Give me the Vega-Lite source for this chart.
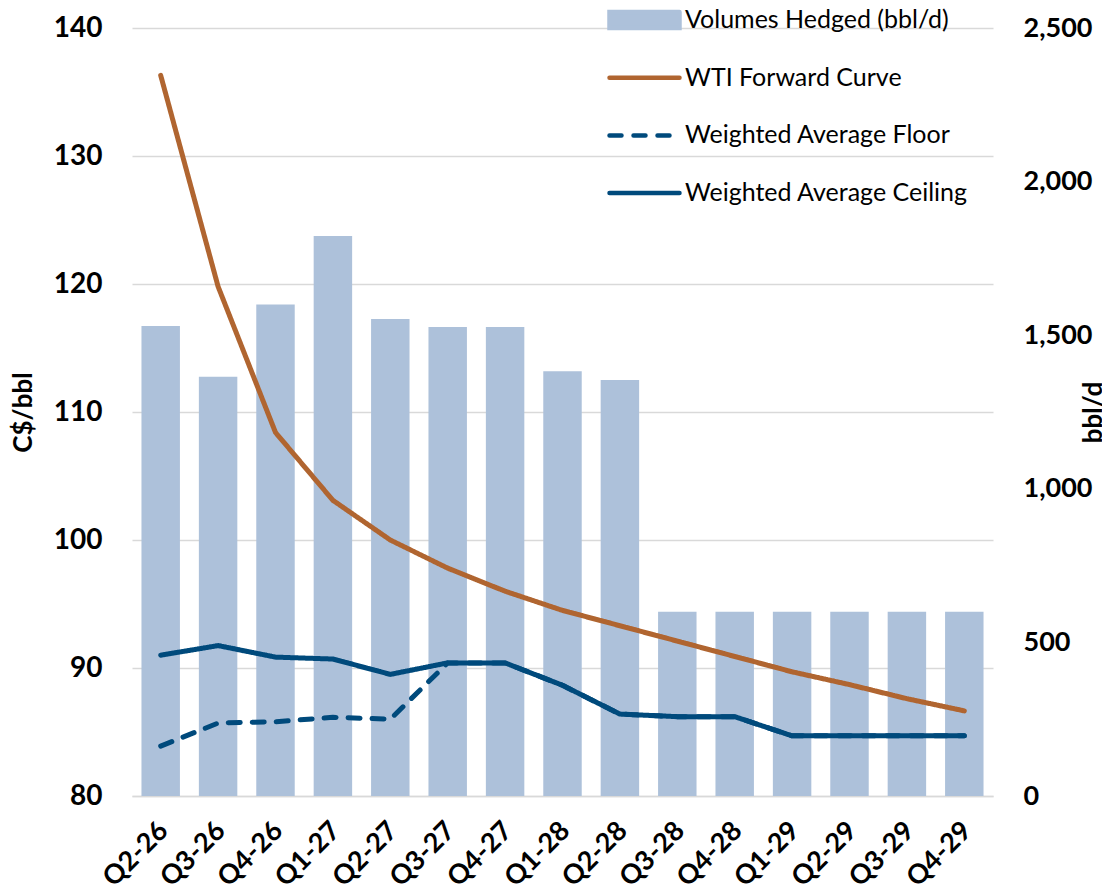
{
  "$schema": "https://vega.github.io/schema/vega-lite/v6.json",
  "width": 861,
  "height": 768,
  "padding": {"left": 132, "top": 28, "right": 109, "bottom": 96},
  "autosize": {"type": "none"},
  "background": "white",
  "config": {
    "font": "Lato",
    "view": {"stroke": null},
    "legend": {"title": null},
    "axis": {"labelFont": "Lato", "titleFont": "Lato", "labelColor": "#000000", "titleColor": "#000000"}
  },
  "data": {
    "values": [
      {"q": "Q2-26", "vol": 1530, "WTI Forward Curve": 136.3, "Weighted Average Floor": 83.9, "Weighted Average Ceiling": 91.0},
      {"q": "Q3-26", "vol": 1365, "WTI Forward Curve": 119.8, "Weighted Average Floor": 85.7, "Weighted Average Ceiling": 91.75},
      {"q": "Q4-26", "vol": 1600, "WTI Forward Curve": 108.4, "Weighted Average Floor": 85.8, "Weighted Average Ceiling": 90.85},
      {"q": "Q1-27", "vol": 1823, "WTI Forward Curve": 103.1, "Weighted Average Floor": 86.15, "Weighted Average Ceiling": 90.7},
      {"q": "Q2-27", "vol": 1553, "WTI Forward Curve": 100.0, "Weighted Average Floor": 86.0, "Weighted Average Ceiling": 89.5},
      {"q": "Q3-27", "vol": 1527, "WTI Forward Curve": 97.8, "Weighted Average Floor": 90.4, "Weighted Average Ceiling": 90.4},
      {"q": "Q4-27", "vol": 1527, "WTI Forward Curve": 96.0, "Weighted Average Floor": 90.4, "Weighted Average Ceiling": 90.4},
      {"q": "Q1-28", "vol": 1383, "WTI Forward Curve": 94.5, "Weighted Average Floor": 88.65, "Weighted Average Ceiling": 88.65},
      {"q": "Q2-28", "vol": 1354, "WTI Forward Curve": 93.3, "Weighted Average Floor": 86.4, "Weighted Average Ceiling": 86.4},
      {"q": "Q3-28", "vol": 600, "WTI Forward Curve": 92.1, "Weighted Average Floor": 86.2, "Weighted Average Ceiling": 86.2},
      {"q": "Q4-28", "vol": 600, "WTI Forward Curve": 90.9, "Weighted Average Floor": 86.2, "Weighted Average Ceiling": 86.2},
      {"q": "Q1-29", "vol": 600, "WTI Forward Curve": 89.7, "Weighted Average Floor": 84.7, "Weighted Average Ceiling": 84.7},
      {"q": "Q2-29", "vol": 600, "WTI Forward Curve": 88.7, "Weighted Average Floor": 84.7, "Weighted Average Ceiling": 84.7},
      {"q": "Q3-29", "vol": 600, "WTI Forward Curve": 87.6, "Weighted Average Floor": 84.7, "Weighted Average Ceiling": 84.7},
      {"q": "Q4-29", "vol": 600, "WTI Forward Curve": 86.65, "Weighted Average Floor": 84.7, "Weighted Average Ceiling": 84.7}
    ]
  },
  "encoding": {
    "x": {
      "field": "q",
      "type": "ordinal",
      "sort": null,
      "scale": {"paddingInner": 0.33, "paddingOuter": 0.165},
      "axis": {
        "title": null,
        "labelAngle": -45,
        "labelAlign": "right",
        "labelBaseline": "top",
        "labelFontSize": 27,
        "labelFontWeight": "bold",
        "labelPadding": 21,
        "labelOffset": -6,
        "ticks": false,
        "tickSize": 0,
        "domain": true,
        "domainColor": "#d9d9d9",
        "domainWidth": 1.5,
        "grid": false
      }
    }
  },
  "layer": [
    {
      "mark": {"type": "bar"},
      "encoding": {
        "y": {
          "field": "vol",
          "type": "quantitative",
          "scale": {"domain": [0, 2500], "nice": false},
          "axis": {
            "orient": "right",
            "title": "bbl/d",
            "titleAngle": -90,
            "titleBaseline": "top",
            "titlePadding": -11,
            "titleFontSize": 26,
            "titleFontWeight": "bold",
            "values": [0, 500, 1000, 1500, 2000, 2500],
            "format": ",d",
            "labelFontSize": 27,
            "labelFontWeight": "bold",
            "labelPadding": 30,
            "ticks": false,
            "tickSize": 0,
            "domain": false,
            "grid": false
          }
        },
        "color": {
          "datum": "Volumes Hedged (bbl/d)",
          "type": "nominal",
          "scale": {
            "domain": ["Volumes Hedged (bbl/d)", "WTI Forward Curve", "Weighted Average Floor", "Weighted Average Ceiling"],
            "range": ["#adc1da", "#b06530", "#004a7c", "#004a7c"]
          },
          "legend": {
            "title": null,
            "orient": "none",
            "legendX": 475,
            "legendY": -28,
            "padding": 0,
            "symbolSize": 4900,
            "clipHeight": 40,
            "rowPadding": 17.7,
            "labelOffset": 3,
            "labelFont": "Lato",
            "labelFontSize": 25,
            "labelColor": "#000000",
            "labelLimit": 500,
            "encode": {
              "symbols": {
                "update": {
                  "shape": [
                    {"test": "datum.value === 'Volumes Hedged (bbl/d)'", "value": "M-1,-0.23H1V0.23H-1Z"},
                    {"value": "stroke"}
                  ],
                  "size": {"value": 4900},
                  "fill": [
                    {"test": "datum.value === 'Volumes Hedged (bbl/d)'", "scale": "color", "field": "value"},
                    {"value": "transparent"}
                  ],
                  "stroke": [
                    {"test": "datum.value === 'Volumes Hedged (bbl/d)'", "value": "transparent"},
                    {"scale": "color", "field": "value"}
                  ],
                  "strokeWidth": {"value": 4.5},
                  "strokeCap": {"value": "round"},
                  "strokeDash": [
                    {"test": "datum.value === 'Weighted Average Floor'", "value": [12, 12]},
                    {"value": [1, 0]}
                  ],
                  "opacity": {"value": 1},
                  "fillOpacity": {"value": 1},
                  "strokeOpacity": {"value": 1}
                }
              }
            }
          }
        }
      }
    },
    {
      "transform": [
        {"fold": ["Weighted Average Floor", "Weighted Average Ceiling", "WTI Forward Curve"], "as": ["series", "price"]}
      ],
      "mark": {"type": "line", "strokeWidth": 5, "strokeCap": "round", "strokeJoin": "round"},
      "encoding": {
        "y": {
          "field": "price",
          "type": "quantitative",
          "scale": {"domain": [80, 140], "nice": false, "zero": false},
          "axis": {
            "orient": "left",
            "title": "C$/bbl",
            "titleFontSize": 26,
            "titleFontWeight": "bold",
            "titlePadding": 17,
            "values": [80, 90, 100, 110, 120, 130, 140],
            "labelFontSize": 28,
            "labelFontWeight": "bold",
            "labelPadding": 30,
            "ticks": false,
            "tickSize": 0,
            "domain": false,
            "grid": true,
            "gridColor": "#d9d9d9",
            "gridWidth": 1.5
          }
        },
        "color": {"field": "series", "type": "nominal", "legend": {"title": null}},
        "strokeDash": {
          "field": "series",
          "type": "nominal",
          "scale": {
            "domain": ["WTI Forward Curve", "Weighted Average Floor", "Weighted Average Ceiling"],
            "range": [[1, 0], [12, 12], [1, 0]]
          },
          "legend": null
        },
        "order": {"field": "series"}
      }
    }
  ],
  "resolve": {"scale": {"y": "independent"}}
}
